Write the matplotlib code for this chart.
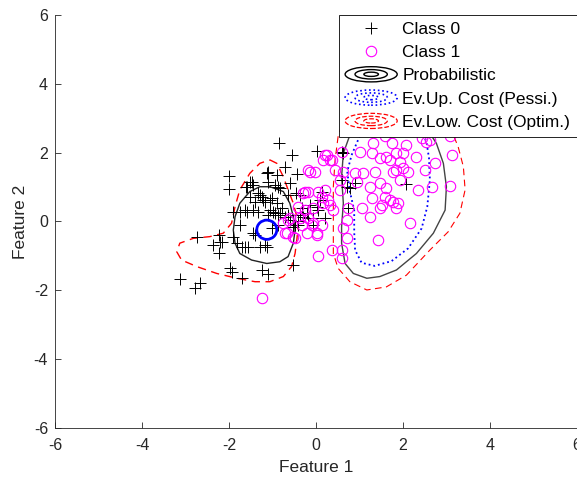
import numpy as np
import matplotlib
matplotlib.use("Agg")
import matplotlib.pyplot as plt
from matplotlib.patches import Ellipse
from matplotlib.legend_handler import HandlerBase
from matplotlib.lines import Line2D

plt.rcParams['font.family'] = ['Liberation Sans', 'DejaVu Sans']
plt.rcParams['axes.unicode_minus'] = False

# class 0 points (black +)
c0_x = [-0.85, -0.56, 0.02, -1.99, -2.01, -1.11, -0.71, -0.44, -1.52, -1.58, -1.44, -0.90, -0.94,
        -0.83, -0.60, -0.64, -0.46, -1.29, -1.21, -1.06, -1.40, -1.52, -1.90, -1.75, -1.63, -1.44,
        -1.33, -1.06, -0.94, -0.83, -0.71, -0.33, -0.14, -0.21, 0.02, -0.06, -0.60, -0.41, -0.52,
        -1.75, -1.40, -1.02, -2.74, -2.24, -2.21, -2.36, -2.24, -1.90, -1.82, -1.71, -1.56, -1.29,
        -1.17, -1.98, -1.94, -1.71, -1.25, -1.10, -0.52, -3.13, -2.78, -2.67, -0.41, -0.37, 0.59,
        0.59, 0.71, 0.78, 0.90, 2.08, 0.74, 0.13, 0.09, 0.05, 0.21, -0.06, -0.29, -0.37, 0.63,
        -1.13, -1.48, -1.10, -0.87, -1.33, -1.25, -1.17, -1.02, -0.90, -0.79, -0.98, -1.59, -1.10,
        -0.87, -0.64, -1.63, -1.13, -0.87, -0.48, -0.18, -2.17, -1.61, -1.44]
c0_y = [2.28, 1.93, 2.06, 1.33, 0.94, 1.43, 1.59, 1.38, 1.16, 1.01, 1.06, 1.35, 1.06,
        0.97, 1.11, 0.77, 0.84, 0.77, 0.63, 0.63, 0.58, 0.72, 0.29, 0.29, 0.33, 0.33,
        0.29, 0.33, 0.24, 0.24, 0.14, 0.38, 0.48, 0.24, 0.43, 0.09, 0.04, 0.00, -0.15,
        -0.10, -0.39, -0.20, -0.44, -0.39, -0.59, -0.68, -0.93, -0.44, -0.63, -0.73, -0.73, -0.73,
        -0.68, -1.36, -1.46, -1.65, -1.41, -1.53, -1.26, -1.68, -1.94, -1.80, -0.10, 0.19, 2.03,
        1.21, 1.01, 0.97, 1.11, 1.09, 0.38, 0.87, 0.63, 0.33, 0.09, -0.10, 0.14, 0.77, 2.00,
        1.40, 1.16, 1.16, 1.01, 0.82, 0.72, 0.58, 0.67, 0.53, 0.38, 0.29, 0.29, 0.19,
        0.19, 0.19, -0.75, -0.73, -0.10, -0.10, 0.09, -0.59, 1.01, -0.34]

# class 1 points (magenta o)
c1_x = [1.59, 1.74, 2.08, 2.43, 2.54, 2.62, 3.08, 1.32, 1.01, 1.28, 1.62, 1.85, 2.01, 1.70, 1.93,
        2.31, 3.12, 0.25, 0.36, 0.17, 0.59, 1.47, 2.74, 2.51, 1.85, 2.01, 2.12, 1.78, 1.93, 1.36,
        1.09, 0.90, 0.63, 0.44, -0.14, -0.02, 0.55, 0.94, 1.47, 1.24, 1.62, 2.35, 2.66, 3.08, 0.55,
        0.21, -0.18, -0.29, 0.13, 0.28, 1.28, 1.59, 1.70, 1.51, 1.78, 1.89, 1.85, 1.47, 1.05, 0.74,
        0.40, 0.32, 0.17, -0.06, -0.25, 1.24, 2.16, 0.13, -0.18, -0.37, 0.71, 0.63, -0.10, -0.21,
        0.02, 0.71, 1.43, 0.36, 0.05, 0.59, 0.59, 0.21, -0.18, 0.05, -0.41, -0.60, -0.75, -0.71,
        -0.52, 0.02, -0.33, -0.06, -1.25, 0.32, -0.25, -0.64, -0.67, -0.48]
c1_y = [2.49, 2.27, 2.22, 2.42, 2.32, 2.37, 2.47, 2.27, 2.03, 1.98, 1.88, 1.98, 1.98, 1.79, 1.74,
        1.88, 1.93, 1.93, 1.79, 1.79, 2.03, 1.84, 1.69, 1.50, 1.50, 1.55, 1.45, 1.45, 1.21, 1.45,
        1.40, 1.40, 1.45, 1.50, 1.45, 1.45, 1.21, 1.16, 1.11, 1.01, 0.97, 0.92, 1.01, 1.03, 0.92,
        0.92, 0.87, 0.82, 0.72, 0.63, 0.67, 0.72, 0.63, 0.48, 0.58, 0.53, 0.38, 0.38, 0.38, 0.38,
        0.33, 0.48, 0.53, 0.38, 0.33, 0.14, -0.05, -0.10, 0.09, 0.09, 0.04, -0.20, -0.10, -0.34,
        -0.34, -0.49, -0.54, -0.83, -0.99, -1.07, -0.83, 1.93, 1.50, 0.87, 0.43, 0.09, -0.05, -0.34,
        -0.44, -0.39, -0.10, -0.05, -2.23, 1.79, 0.87, 0.04, -0.34, -0.49]

# contour outlines
prob_left_x = [-1.06, -0.75, -0.60, -0.52, -0.48, -0.52, -0.64, -0.83, -1.13, -1.48, -1.75, -1.86,
               -1.90, -1.86, -1.75, -1.52, -1.29, -1.06]
prob_left_y = [1.01, 0.87, 0.53, 0.14, -0.25, -0.63, -1.02, -1.17, -1.22, -1.12, -0.93, -0.63,
               -0.25, 0.14, 0.53, 0.87, 1.01, 1.01]
prob_right_x = [0.78, 0.63, 0.59, 0.63, 0.59, 0.59, 0.67, 0.86, 1.17, 1.47, 1.85, 2.31, 2.70, 2.97,
                3.00, 2.93, 2.77, 2.62, 2.31, 1.32, 0.94, 0.78]
prob_right_y = [2.51, 1.98, 1.30, 0.53, -0.15, -0.63, -1.22, -1.51, -1.65, -1.60, -1.41, -0.93,
                -0.34, 0.33, 1.01, 1.69, 2.27, 2.56, 3.05, 3.15, 2.95, 2.51]
pess_right_x = [1.01, 0.82, 0.72, 0.78, 0.88, 0.88, 0.90, 1.05, 1.35, 1.74, 2.12, 2.43, 2.56,
                2.62, 2.60, 2.54, 2.47, 1.70, 1.01]
pess_right_y = [2.49, 1.93, 1.45, 0.87, 0.33, -0.30, -0.83, -1.20, -1.29, -1.15, -0.78, -0.20,
                0.43, 1.20, 1.84, 2.32, 2.51, 3.05, 2.49]
pess_left_center = (-1.13, -0.24)
pess_left_size = (0.46, 0.56)
optim_left_x = [-1.06, -0.90, -0.75, -0.64, -0.52, -0.44, -0.41, -0.44, -0.48, -0.56, -0.75, -1.06,
                -1.40, -1.82, -2.28, -2.74, -3.09, -3.20, -3.13, -2.82, -2.44, -2.13, -1.94, -1.86,
                -1.75, -1.52, -1.29, -1.06]
optim_left_y = [1.79, 1.69, 1.30, 0.92, 0.53, 0.14, -0.15, -0.54, -0.93, -1.31, -1.60, -1.75,
                -1.75, -1.65, -1.51, -1.31, -1.12, -0.88, -0.63, -0.49, -0.44, -0.34, -0.05, 0.43,
                0.92, 1.40, 1.69, 1.79]
optim_right_x = [0.51, 0.44, 0.40, 0.40, 0.40, 0.40, 0.51, 0.78, 1.17, 1.62, 2.08, 2.62, 3.04,
                 3.31, 3.43, 3.39, 3.27, 3.16, 2.47, 1.32, 0.63, 0.51]
optim_right_y = [2.47, 1.79, 1.01, 0.33, -0.34, -0.93, -1.36, -1.75, -1.99, -1.90, -1.56, -0.83,
                 -0.30, 0.24, 0.92, 1.59, 2.17, 2.51, 3.15, 3.24, 2.95, 2.47]

labels = ["Class 0", "Class 1", "Probabilistic", "Ev.Up. Cost (Pessi.)", "Ev.Low. Cost (Optim.)"]
ticks = [-6, -4, -2, 0, 2, 4, 6]


class RingsHandler(HandlerBase):
    def create_artists(self, legend, orig_handle, xdescent, ydescent, width, height, fontsize, trans):
        cx = width / 2 - xdescent
        cy = height / 2 - ydescent
        arts = []
        for s in (1.0, 0.62, 0.28):
            e = Ellipse((cx, cy), width * s, height * 1.25 * s, fill=False,
                        edgecolor=orig_handle.get_color(), linestyle=orig_handle.get_linestyle(),
                        lw=orig_handle.get_linewidth(), transform=trans)
            arts.append(e)
        return arts


fig = plt.figure(figsize=(5.77, 4.79), dpi=100)
ax = fig.add_axes([0.0953, 0.1065, 0.9045, 0.8622])

ax.plot(c0_x, c0_y, '+', color='black', ms=8, mew=0.7, label=labels[0], zorder=3)
ax.plot(c1_x, c1_y, 'o', mfc='none', mec='#ff00ff', ms=7.5, mew=0.8, label=labels[1], zorder=3)

ax.plot(prob_left_x, prob_left_y, '-', color='#222222', lw=1.0, zorder=2)
ax.plot(prob_right_x, prob_right_y, '-', color='#444444', lw=1.0, zorder=2)
ax.plot(pess_right_x, pess_right_y, ':', color='blue', lw=1.3, zorder=2)
ax.add_patch(Ellipse(pess_left_center, pess_left_size[0], pess_left_size[1], fill=False,
                     edgecolor='blue', lw=2.0, zorder=4))
ax.plot(optim_left_x, optim_left_y, '--', color='red', lw=1.0, dashes=(6, 4), zorder=2)
ax.plot(optim_right_x, optim_right_y, '--', color='red', lw=0.8, dashes=(6, 4), zorder=2)

h_prob = Line2D([], [], color='black', ls='-', lw=1.0)
h_pess = Line2D([], [], color='blue', ls=':', lw=1.2)
h_optim = Line2D([], [], color='red', ls=(0, (5, 3)), lw=0.9)
h0, h1 = ax.get_legend_handles_labels()[0]
leg = ax.legend([h0, h1, h_prob, h_pess, h_optim], labels, loc='upper right',
                bbox_to_anchor=(1.0, 1.0), borderaxespad=0, fancybox=False, framealpha=1,
                edgecolor='black', fontsize=12.5, handlelength=3.0, handletextpad=0.3,
                labelspacing=0.47, borderpad=0.38,
                handler_map={h_prob: RingsHandler(), h_pess: RingsHandler(), h_optim: RingsHandler()})
leg.get_frame().set_linewidth(0.6)
leg.set_zorder(10)

ax.set_xlim(-6, 6)
ax.set_ylim(-6, 6)
ax.set_xticks(ticks)
ax.set_yticks(ticks)
ax.tick_params(direction='in', length=4, width=0.6, labelsize=11.5, colors='#262626', pad=7)
ax.tick_params(axis='y', pad=5)
for side in ('top', 'right'):
    ax.spines[side].set_visible(False)
for side in ('left', 'bottom'):
    ax.spines[side].set_color('#262626')
    ax.spines[side].set_linewidth(0.6)
ax.set_xlabel("Feature 1", fontsize=12.5, color='#262626', labelpad=5)
ax.set_ylabel("Feature 2", fontsize=12.5, color='#262626', labelpad=4)

fig.savefig("out.png", dpi=100)
